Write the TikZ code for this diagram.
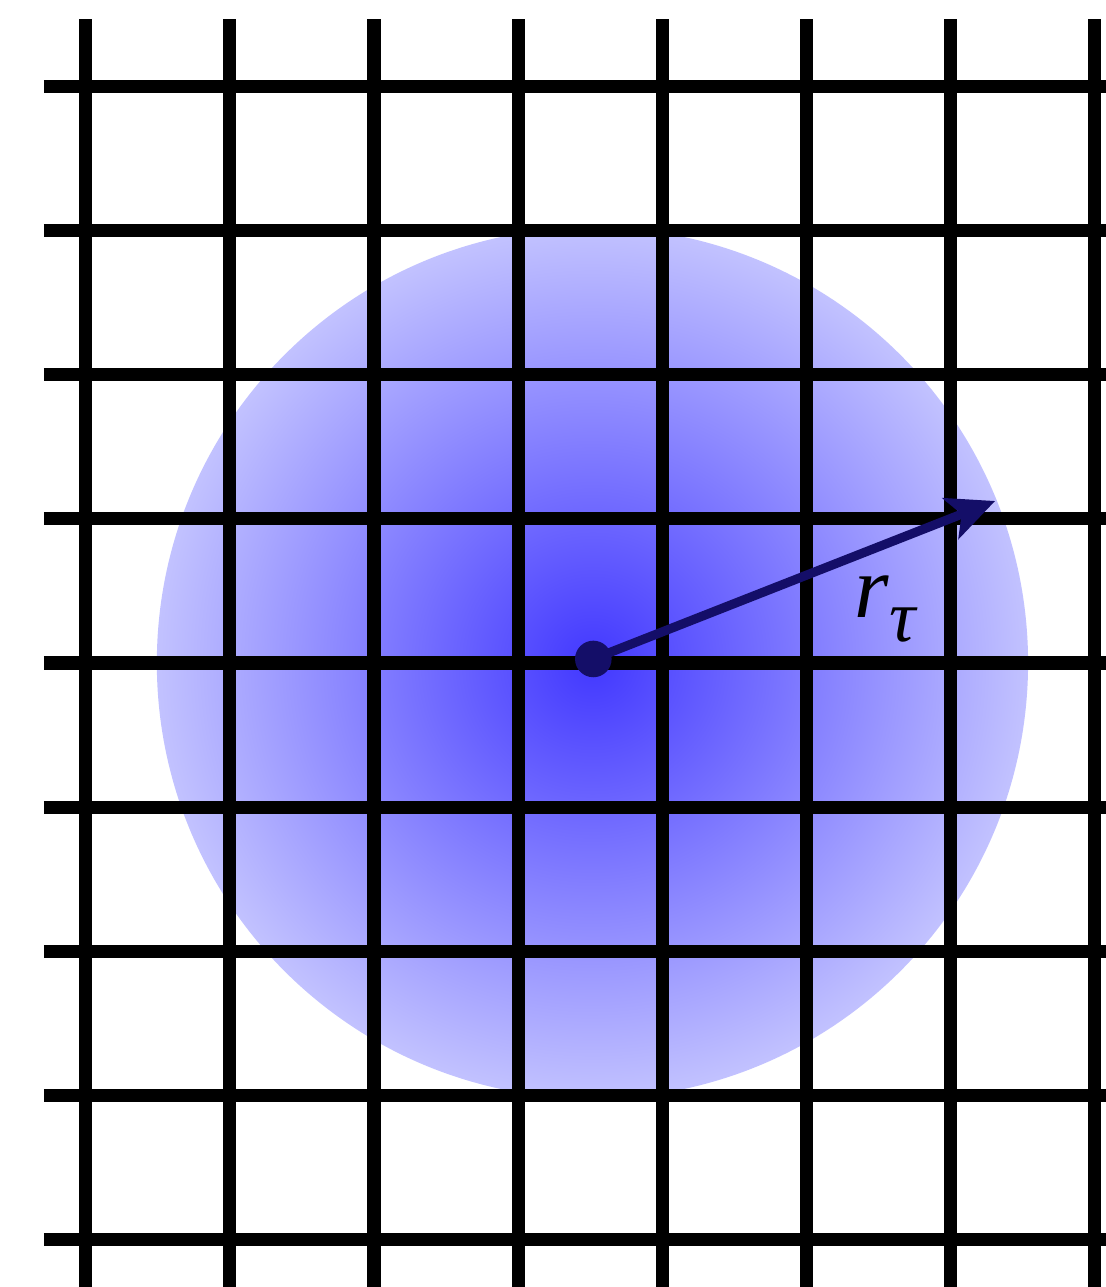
\documentclass[tikz,border=0pt]{standalone}
\usepackage{fontspec}
\usepackage{xcolor}
\usepackage{tikz}
\usetikzlibrary{arrows.meta}
\newfontfamily\labelfont{Liberation Serif}
\definecolor{glowinner}{RGB}{66, 56, 255}
\definecolor{glowouter}{RGB}{194, 194, 255}
\definecolor{radiusnavy}{RGB}{20, 14, 104}
\pgfdeclareradialshading{glow}{\pgfpoint{0bp}{0bp}}{%
  color(0bp)=(glowinner); color(25bp)=(glowouter); color(50bp)=(glowouter)}

\begin{document}
\begin{tikzpicture}[
    gridline/.style={line width=2.57pt, color=black},
    centre/.style={circle, fill=radiusnavy, inner sep=0pt,
                   minimum size=0.254cm},
    radius/.style={-{Stealth[length=0.33cm, width=0.3cm, inset=0.08cm]},
                   line width=1.8pt, color=radiusnavy},
    lbl/.style={font=\labelfont\itshape\fontsize{17.5}{20}\selectfont,
                inner sep=0pt, anchor=base west}]

    \useasboundingbox (-0.597,-0.333) rectangle (7.083,8.604);

    % Shaded disc
    \shade[shading=glow] (3.517,4.0) circle (3.025);

    % Grid
    \foreach \x in {0,...,7}
        \draw[gridline] (\x,-0.333) -- (\x,8.472);
    \foreach \y in {0,...,8}
        \draw[gridline] (-0.292,\y) -- (7.083,\y);

    % Centre and radius
    \node[centre] (c) at (3.523,4.028) {};
    \coordinate (tip) at (6.313,5.125);
    \draw[radius] (c.center) -- (tip);
    \node[lbl] (rt) at (5.33,4.3125)
        {r\raisebox{-4.7pt}{\fontsize{14.5}{16}\selectfont τ}};
\end{tikzpicture}
\end{document}
